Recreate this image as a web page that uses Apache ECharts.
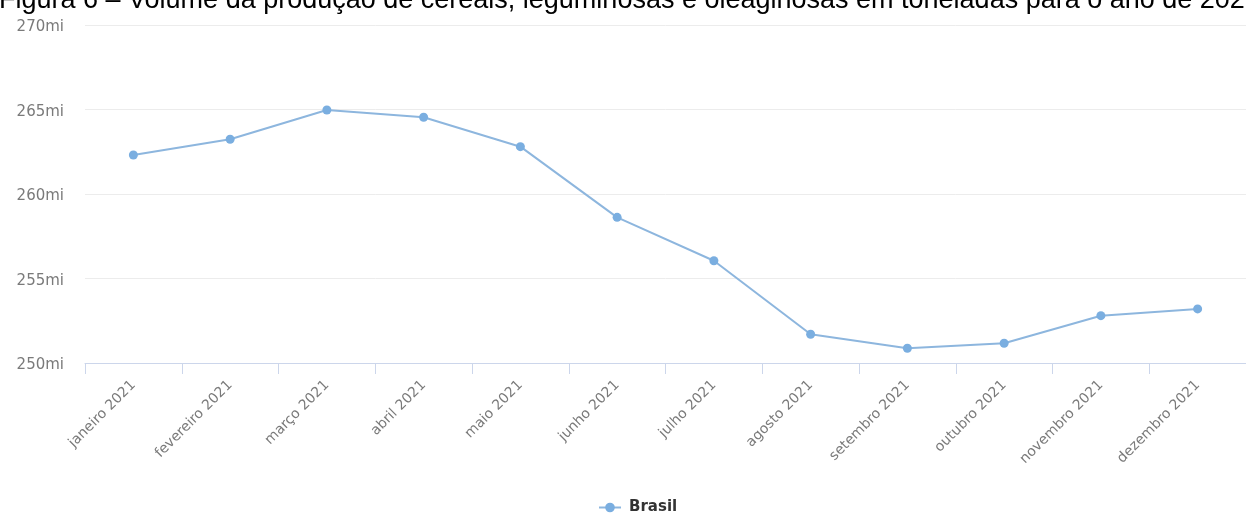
<!DOCTYPE html>
<html>
<head>
<meta charset="utf-8">
<script src="https://cdn.jsdelivr.net/npm/echarts@6/dist/echarts.min.js"></script>
<style>
  html, body { margin: 0; padding: 0; background: #fff; }
  #chart { width: 1246px; height: 518px; }
</style>
</head>
<body>
<div id="chart"></div>
<script>
// Monthly estimate of grain, legume and oilseed output (millions of tonnes)
const months = [
  'janeiro 2021', 'fevereiro 2021', 'março 2021', 'abril 2021',
  'maio 2021', 'junho 2021', 'julho 2021', 'agosto 2021',
  'setembro 2021', 'outubro 2021', 'novembro 2021', 'dezembro 2021'
];
const brasil = [
  262.31, 263.24, 264.97, 264.54, 262.80, 258.62,
  256.05, 251.70, 250.87, 251.17, 252.80, 253.20
];
const yTicks = { min: 250, max: 270, step: 5 };
const titleText = 'Figura 6 – Volume da produção de cereais, leguminosas e oleaginosas em toneladas para o ano de 2021';

const labelFont = 'DejaVu Sans';
const chart = echarts.init(document.getElementById('chart'), null, { renderer: 'canvas' });

chart.setOption({
  backgroundColor: '#ffffff',
  animation: false,
  title: {
    text: titleText,
    left: -1,
    top: -13,
    padding: 0,
    textStyle: {
      fontFamily: 'Liberation Sans',
      fontSize: 27,
      fontWeight: 'normal',
      color: '#000'
    }
  },
  grid: {
    left: 85,
    right: -4,
    top: 25,
    bottom: 155
  },
  legend: {
    bottom: 3,
    left: 598,
    padding: 0,
    itemWidth: 22,
    itemHeight: 12,
    itemGap: 8,
    textStyle: {
      fontFamily: labelFont,
      fontSize: 15,
      fontWeight: 'bold',
      color: '#333',
      padding: [0, 0, 0, 3]
    },
    data: ['Brasil']
  },
  xAxis: {
    type: 'category',
    data: months,
    boundaryGap: true,
    axisLine: { lineStyle: { color: '#ccd6eb', width: 1 } },
    axisTick: { show: true, length: 11, alignWithLabel: false, lineStyle: { color: '#ccd6eb' } },
    axisLabel: {
      rotate: 45,
      margin: 20,
      interval: 0,
      fontFamily: labelFont,
      fontSize: 14,
      color: '#7a7a7a'
    },
    splitLine: { show: false }
  },
  yAxis: {
    type: 'value',
    min: yTicks.min,
    max: yTicks.max,
    interval: yTicks.step,
    axisLine: { show: false },
    axisTick: { show: false },
    axisLabel: {
      margin: 21,
      color: '#7a7a7a',
      formatter: v => '{v|' + v + 'mi}',
      rich: {
        v: {
          fontFamily: labelFont,
          fontSize: 15,
          color: '#7a7a7a',
          padding: [5, 0, 0, 0]
        }
      }
    },
    splitLine: { show: true, lineStyle: { color: '#ececec', width: 1 } }
  },
  series: [{
    name: 'Brasil',
    type: 'line',
    data: brasil,
    symbol: 'circle',
    symbolSize: 9,
    lineStyle: { color: '#8db6de', width: 2 },
    itemStyle: { color: '#7aaee0' }
  }]
});
</script>
</body>
</html>
